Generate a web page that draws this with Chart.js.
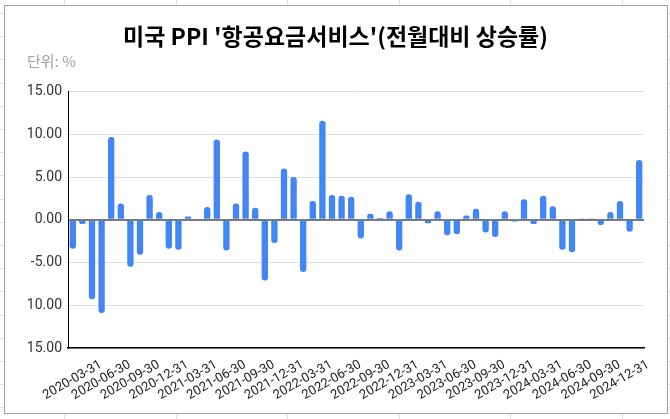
<!DOCTYPE html>
<html>
<head>
<meta charset="utf-8">
<script src="https://cdn.jsdelivr.net/npm/chart.js@4"></script>
<style>
  html, body { margin: 0; padding: 0; }
  body {
    width: 670px; height: 419px; position: relative; overflow: hidden;
    background-color: #fff;
    background-image:
      repeating-linear-gradient(to right, transparent 0, transparent 64px, #e2e2e2 64px, #e2e2e2 65px, transparent 65px, transparent 111.6px),
      repeating-linear-gradient(to bottom, transparent 0, transparent 13px, #e2e2e2 13px, #e2e2e2 14px, transparent 14px, transparent 23.2px);
  }
  #box {
    position: absolute; left: 4px; top: 5px; width: 662px; height: 407px;
    border: 1px solid #a0a0a0; background: #fff;
  }
  #wrap { position: absolute; left: 0; top: 0; width: 670px; height: 419px; }
</style>
</head>
<body>
<div id="box"></div>
<div id="wrap"><canvas id="ppiChart" width="670" height="419"></canvas></div>
<script>
// Month-end dates, 2020-01 .. 2024-12
const months = [
  '2020-01-31','2020-02-29','2020-03-31','2020-04-30','2020-05-31','2020-06-30',
  '2020-07-31','2020-08-31','2020-09-30','2020-10-31','2020-11-30','2020-12-31',
  '2021-01-31','2021-02-28','2021-03-31','2021-04-30','2021-05-31','2021-06-30',
  '2021-07-31','2021-08-31','2021-09-30','2021-10-31','2021-11-30','2021-12-31',
  '2022-01-31','2022-02-28','2022-03-31','2022-04-30','2022-05-31','2022-06-30',
  '2022-07-31','2022-08-31','2022-09-30','2022-10-31','2022-11-30','2022-12-31',
  '2023-01-31','2023-02-28','2023-03-31','2023-04-30','2023-05-31','2023-06-30',
  '2023-07-31','2023-08-31','2023-09-30','2023-10-31','2023-11-30','2023-12-31',
  '2024-01-31','2024-02-29','2024-03-31','2024-04-30','2024-05-31','2024-06-30',
  '2024-07-31','2024-08-31','2024-09-30','2024-10-31','2024-11-30','2024-12-31'
];

// MoM change (%)
const momChange = [
  -3.4, -0.5, -9.3, -10.9, 9.7, 1.9, -5.5, -4.1, 2.9, 0.9, -3.4, -3.5,
  0.4, -0.1, 1.5, 9.4, -3.6, 1.9, 8.0, 1.4, -7.1, -2.7, 6.0, 5.0,
  -6.1, 2.2, 11.6, 2.9, 2.8, 2.7, -2.2, 0.7, 0.2, 1.0, -3.6, 3.0,
  2.1, -0.4, 1.0, -1.8, -1.7, 0.5, 1.3, -1.5, -2.0, 1.0, -0.2, 2.4,
  -0.5, 2.8, 1.6, -3.5, -3.8, 0.1, 0.1, -0.6, 0.9, 2.2, -1.4, 7.0
];

const yMin = -15, yMax = 15, yStep = 5;

const ctx = document.getElementById('ppiChart').getContext('2d');
new Chart(ctx, {
  type: 'bar',
  data: {
    labels: months,
    datasets: [{
      data: momChange,
      backgroundColor: '#4285f4',
      borderRadius: 3,
      barPercentage: 0.66,
      categoryPercentage: 1.0
    }]
  },
  options: {
    responsive: false,
    animation: false,
    layout: { padding: { left: 27, right: 26, top: 0, bottom: 13 } },
    scales: {
      x: {
        grid: { display: false },
        border: { display: true, color: '#000', width: 1.5 },
        ticks: {
          autoSkip: false,
          minRotation: 30,
          maxRotation: 30,
          padding: 1,
          labelOffset: 9,
          color: '#222',
          font: { family: 'Roboto', size: 13 },
          callback: function (val, i) {
            return i % 3 === 2 ? this.getLabelForValue(val) : '';
          }
        },
        afterFit: s => { s.height = 58; }
      },
      y: {
        min: yMin,
        max: yMax,
        ticks: {
          stepSize: yStep,
          padding: 6,
          color: '#333',
          font: { family: 'Roboto', size: 14 },
          callback: v => v.toFixed(2)
        },
        grid: {
          drawTicks: false,
          color: c => c.tick.value === 0 ? '#7a7a7a' : '#dcdcdc',
          lineWidth: c => c.tick.value === 0 ? 2 : 1
        },
        border: { display: true, color: '#000', width: 1 },
        afterFit: s => { s.width = 41; }
      }
    },
    plugins: {
      legend: { display: false },
      tooltip: { enabled: false },
      title: {
        display: true,
        text: "미국 PPI '항공요금서비스'(전월대비 상승률)",
        color: '#000',
        font: { family: 'Noto Sans CJK KR', size: 23, weight: 'bold', lineHeight: 1.2 },
        padding: { top: 22, bottom: 0 }
      },
      subtitle: {
        display: true,
        text: '단위: %',
        align: 'start',
        color: '#9e9e9e',
        font: { family: 'Noto Sans CJK KR', size: 15, lineHeight: 1.2 },
        padding: { top: 3, bottom: 21 }
      }
    }
  }
});
</script>
</body>
</html>
